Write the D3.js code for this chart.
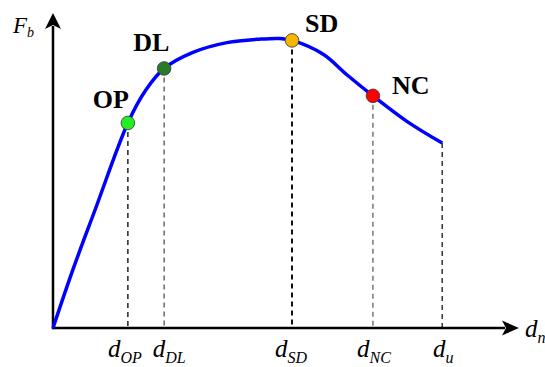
<!DOCTYPE html>
<html>
<head>
<meta charset="utf-8">
<script src="https://cdn.jsdelivr.net/npm/d3@7"></script>
<style>
html,body{margin:0;padding:0;background:#fff;}
svg{display:block;}
text{font-family:"Liberation Serif","Times New Roman",serif;}
</style>
</head>
<body>
<svg id="chart" width="545" height="367"></svg>
<script>
// ---- data (normalised units: displacement 0-100, force 0-100) ----
const curveD = [0, 4.3, 9.0, 16.1, 20.0, 23.9, 30.1, 37.4, 44.5, 48.8, 51.4, 58.1, 63.2, 68.8, 76.1, 83.7];
const curveF = [0, 18.6, 37.3, 65.1, 75.6, 82.4, 87.5, 90.6, 91.7, 91.9, 91.3, 86.9, 80.4, 73.7, 65.6, 58.7];
const pointNames = ["OP", "DL", "SD", "NC"];
const pointD = [16.1, 23.9, 51.4, 68.8];
const pointF = [65.1, 82.4, 91.3, 73.7];
const pointColors = ["#22ee22", "#2a7a2a", "#f7b500", "#ff0000"];
const tickMain = ["d", "d", "d", "d", "d"];
const tickSub = ["OP", "DL", "SD", "NC", "u"];
const tickD = [16.1, 23.9, 51.4, 68.8, 83.7];
const tickF = [65.1, 82.4, 91.3, 73.7, 58.7];

// ---- styles ----
const guideWidth = [1.5, 1.2, 2, 1.2, 1.5];
const guideColor = ["#222", "#444", "#111", "#555", "#333"];
const tickShift = [-3, 5, -1, 1, 1];
const labelOffset = [[-35, -15], [-31, -17], [13, -8], [19, -2]];

// ---- layout ----
const svg = d3.select("#chart");
const x = d3.scaleLinear().domain([0, 100]).range([53, 518]);
const y = d3.scaleLinear().domain([0, 100]).range([328, 13]);
const x0 = x(0), y0 = y(0);

// dashed guide lines
svg.append("g").selectAll("line").data(tickD).join("line")
  .attr("x1", d => x(d)).attr("x2", d => x(d))
  .attr("y1", (d, i) => y(tickF[i])).attr("y2", y0)
  .attr("stroke", (d, i) => guideColor[i]).attr("stroke-width", (d, i) => guideWidth[i])
  .attr("stroke-dasharray", "5,4");

// axes
const axes = svg.append("g");
axes.append("line").attr("x1", x0).attr("y1", y0 + 1.2).attr("x2", x0).attr("y2", 26)
  .attr("stroke", "#000").attr("stroke-width", 2.5);
axes.append("line").attr("x1", x0).attr("y1", y0).attr("x2", 505).attr("y2", y0)
  .attr("stroke", "#000").attr("stroke-width", 2.5);
// arrowheads
axes.append("path")
  .attr("d", `M${x0},13 L${x0 + 8},29 L${x0},25 L${x0 - 8},29 Z`).attr("fill", "#000");
axes.append("path")
  .attr("d", `M519,${y0} L502,${y0 - 7.5} L506,${y0} L502,${y0 + 7.5} Z`).attr("fill", "#000");

// curve
const line = d3.line().x(d => x(d[0])).y(d => y(d[1])).curve(d3.curveCatmullRom.alpha(0.5));
svg.append("path").datum(d3.zip(curveD, curveF))
  .attr("d", line).attr("fill", "none")
  .attr("stroke", "#0000ff").attr("stroke-width", 3.5).attr("stroke-linecap", "butt");

// points
svg.append("g").selectAll("circle").data(pointD).join("circle")
  .attr("cx", d => x(d)).attr("cy", (d, i) => y(pointF[i])).attr("r", 6.8)
  .attr("fill", (d, i) => pointColors[i]).attr("stroke", "#333").attr("stroke-width", 0.8);

// point labels
svg.append("g").selectAll("text").data(pointNames).join("text")
  .attr("x", (d, i) => x(pointD[i]) + labelOffset[i][0])
  .attr("y", (d, i) => y(pointF[i]) + labelOffset[i][1])
  .attr("font-size", 26).attr("font-weight", "bold").attr("fill", "#000")
  .text(d => d);

// tick labels
const tl = svg.append("g").selectAll("text").data(tickD).join("text")
  .attr("x", (d, i) => x(d) + tickShift[i]).attr("y", 357)
  .attr("text-anchor", "middle").attr("font-style", "italic").attr("fill", "#000");
tl.append("tspan").attr("font-size", 25).text((d, i) => tickMain[i]);
tl.append("tspan").attr("font-size", 16).attr("dy", 6).text((d, i) => tickSub[i]);

// axis titles
const yt = svg.append("text").attr("x", 13).attr("y", 33)
  .attr("font-style", "italic").attr("fill", "#000");
yt.append("tspan").attr("font-size", 23).text("F");
yt.append("tspan").attr("font-size", 14).attr("dy", 4).text("b");

const xt = svg.append("text").attr("x", 525).attr("y", 337)
  .attr("font-style", "italic").attr("fill", "#000");
xt.append("tspan").attr("font-size", 25).text("d");
xt.append("tspan").attr("font-size", 16).attr("dy", 6).text("n");
</script>
</body>
</html>
